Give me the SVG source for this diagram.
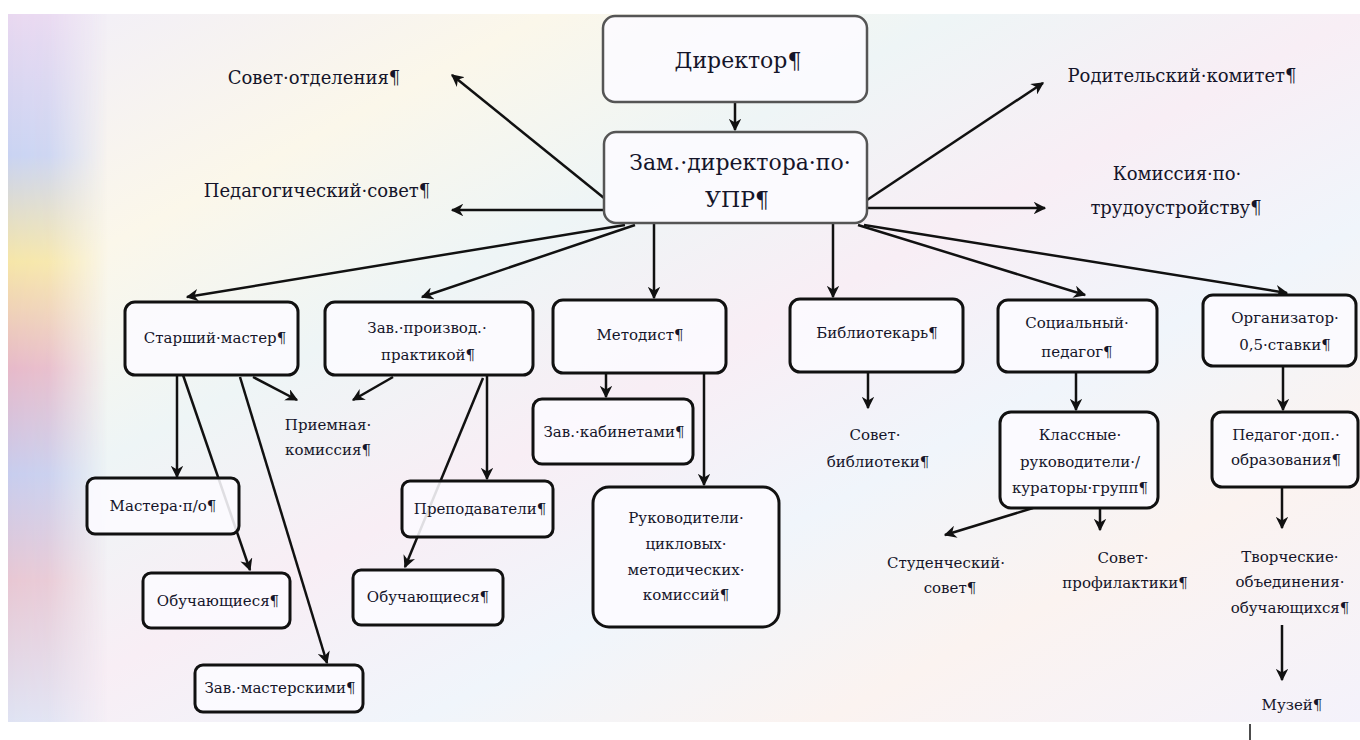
<svg xmlns="http://www.w3.org/2000/svg" width="1360" height="740" viewBox="0 0 1360 740">
<defs>
<linearGradient id="bg" x1="0" y1="0" x2="1" y2="1">
<stop offset="0" stop-color="#f1eef9"/>
<stop offset="0.2" stop-color="#fbf7ea"/>
<stop offset="0.35" stop-color="#eef5f6"/>
<stop offset="0.5" stop-color="#f8eef5"/>
<stop offset="0.65" stop-color="#f0f5fb"/>
<stop offset="0.8" stop-color="#fbf3f0"/>
<stop offset="1" stop-color="#f4f2fb"/>
</linearGradient>
<linearGradient id="band" x1="0" y1="0" x2="0" y2="1">
<stop offset="0" stop-color="#e9d8f0"/>
<stop offset="0.2" stop-color="#c9d3f2"/>
<stop offset="0.35" stop-color="#f6e6a8"/>
<stop offset="0.5" stop-color="#e7b9c9"/>
<stop offset="0.65" stop-color="#c7cdee"/>
<stop offset="0.8" stop-color="#e8c7d3"/>
<stop offset="1" stop-color="#dfe3f3"/>
</linearGradient>
<linearGradient id="fadeg" x1="0" y1="0" x2="1" y2="0">
<stop offset="0" stop-color="#fff" stop-opacity="1"/>
<stop offset="0.4" stop-color="#fff" stop-opacity="0.9"/>
<stop offset="1" stop-color="#fff" stop-opacity="0"/>
</linearGradient>
<mask id="bandmask" maskUnits="userSpaceOnUse" x="0" y="0" width="1360" height="740">
<rect x="8" y="14" width="100" height="708" fill="url(#fadeg)"/>
</mask>
<marker id="ah" viewBox="0 0 10 10" refX="9" refY="5" markerWidth="5" markerHeight="5" orient="auto" markerUnits="strokeWidth">
<path d="M0,0 L10,5 L0,10 L3,5 z" fill="#111"/>
</marker>
</defs>
<style>
.box{fill:#fcfbff;fill-opacity:0.88;stroke:#111;stroke-width:3}
.top{stroke:#555;stroke-width:2.5}
text{font-family:"DejaVu Serif","Liberation Serif",serif}
.t{fill:#15152a;text-anchor:middle}
.s18{font-size:15px}
.s20{font-size:18px}
.s25{font-size:22px}
.c{stroke:#111;stroke-width:2.5;fill:none;marker-end:url(#ah)}
.p{stroke:#111;fill:none}
</style>
<rect width="1360" height="740" fill="#ffffff"/>
<rect x="8" y="14" width="1352" height="708" fill="url(#bg)"/>
<rect x="8" y="14" width="100" height="708" fill="url(#band)" mask="url(#bandmask)"/>

<g id="connectors">
<line class="c" x1="735" y1="102" x2="735" y2="130"/>
<line class="c" x1="604" y1="198" x2="452" y2="75"/>
<line class="c" x1="604" y1="210" x2="452" y2="210"/>
<line class="c" x1="867" y1="200" x2="1043" y2="83"/>
<line class="c" x1="867" y1="208" x2="1045" y2="208"/>
<line class="c" x1="625" y1="225" x2="187" y2="297"/>
<line class="c" x1="635" y1="225" x2="422" y2="297"/>
<line class="c" x1="654" y1="223" x2="654" y2="298"/>
<line class="c" x1="833" y1="223" x2="833" y2="297"/>
<line class="c" x1="858" y1="225" x2="1085" y2="295"/>
<line class="c" x1="864" y1="225" x2="1287" y2="293"/>
<line class="c" x1="177" y1="375" x2="177" y2="477"/>
<line class="c" x1="183" y1="375" x2="250" y2="570"/>
<line class="c" x1="240" y1="377" x2="327" y2="663"/>
<line class="c" x1="253" y1="377" x2="297" y2="400"/>
<line class="c" x1="393" y1="377" x2="353" y2="400"/>
<line class="c" x1="487" y1="375" x2="487" y2="479"/>
<line class="c" x1="483" y1="378" x2="405" y2="567"/>
<line class="c" x1="606" y1="373" x2="606" y2="397"/>
<line class="c" x1="704" y1="373" x2="704" y2="485"/>
<line class="c" x1="868" y1="372" x2="868" y2="408"/>
<line class="c" x1="1076" y1="372" x2="1076" y2="410"/>
<line class="c" x1="1033" y1="508" x2="945" y2="535"/>
<line class="c" x1="1100" y1="508" x2="1100" y2="530"/>
<line class="c" x1="1283" y1="366" x2="1283" y2="410"/>
<line class="c" x1="1282" y1="487" x2="1282" y2="528"/>
<line class="c" x1="1282" y1="625" x2="1282" y2="680"/>
<line class="p" x1="1250" y1="724" x2="1250" y2="740" stroke-width="1.5"/>
</g>

<g id="director">
<rect class="box top" x="603" y="16" width="264" height="86" rx="12"/>
<text class="t s25" x="738" y="68">Директор¶</text>
</g>
<g id="zam">
<rect class="box top" x="604" y="132" width="263" height="91" rx="12"/>
<text class="t s25" x="740" y="170">Зам.·директора·по·</text>
<text class="t s25" x="737" y="207">УПР¶</text>
</g>
<g id="sovet-otdeleniya">
<text class="t s20" x="314" y="84">Совет·отделения¶</text>
</g>
<g id="ped-sovet">
<text class="t s20" x="317" y="197">Педагогический·совет¶</text>
</g>
<g id="rod-komitet">
<text class="t s20" x="1182" y="82">Родительский·комитет¶</text>
</g>
<g id="komissiya">
<text class="t s20" x="1177" y="180">Комиссия·по·</text>
<text class="t s20" x="1176" y="214">трудоустройству¶</text>
</g>

<g id="starshiy-master">
<rect class="box" x="125" y="302" width="173" height="73" rx="10"/>
<text class="t s18" x="215" y="343">Старший·мастер¶</text>
</g>
<g id="zav-proizvod">
<rect class="box" x="325" y="302" width="208" height="73" rx="10"/>
<text class="t s18" x="427" y="333">Зав.·производ.·</text>
<text class="t s18" x="428" y="360">практикой¶</text>
</g>
<g id="metodist">
<rect class="box" x="553" y="300" width="173" height="73" rx="10"/>
<text class="t s18" x="640" y="340">Методист¶</text>
</g>
<g id="bibliotekar">
<rect class="box" x="790" y="299" width="173" height="73" rx="10"/>
<text class="t s18" x="877" y="338">Библиотекарь¶</text>
</g>
<g id="soc-pedagog">
<rect class="box" x="998" y="300" width="159" height="72" rx="10"/>
<text class="t s18" x="1077" y="328">Социальный·</text>
<text class="t s18" x="1077" y="357">педагог¶</text>
</g>
<g id="organizator">
<rect class="box" x="1203" y="295" width="153" height="71" rx="10"/>
<text class="t s18" x="1285" y="323">Организатор·</text>
<text class="t s18" x="1285" y="350">0,5·ставки¶</text>
</g>

<g id="priemnaya">
<text class="t s18" x="328" y="430">Приемная·</text>
<text class="t s18" x="328" y="455">комиссия¶</text>
</g>
<g id="zav-kabinetami">
<rect class="box" x="533" y="399" width="160" height="65" rx="9"/>
<text class="t s18" x="614" y="437">Зав.·кабинетами¶</text>
</g>
<g id="sovet-biblioteki">
<text class="t s18" x="875" y="440">Совет·</text>
<text class="t s18" x="878" y="467">библиотеки¶</text>
</g>
<g id="klassnye">
<rect class="box" x="1000" y="412" width="158" height="96" rx="11"/>
<text class="t s18" x="1080" y="440">Классные·</text>
<text class="t s18" x="1080" y="467">руководители·/</text>
<text class="t s18" x="1080" y="493">кураторы·групп¶</text>
</g>
<g id="pedagog-dop">
<rect class="box" x="1212" y="412" width="146" height="75" rx="10"/>
<text class="t s18" x="1286" y="440">Педагог·доп.·</text>
<text class="t s18" x="1286" y="465">образования¶</text>
</g>

<g id="mastera">
<rect class="box" x="87" y="478" width="152" height="56" rx="8"/>
<text class="t s18" x="163" y="511">Мастера·п/о¶</text>
</g>
<g id="prepodavateli">
<rect class="box" x="402" y="481" width="151" height="56" rx="8"/>
<text class="t s18" x="480" y="514">Преподаватели¶</text>
</g>
<g id="rukovoditeli">
<rect class="box" x="593" y="487" width="186" height="140" rx="16"/>
<text class="t s18" x="686" y="523">Руководители·</text>
<text class="t s18" x="686" y="549">цикловых·</text>
<text class="t s18" x="686" y="575">методических·</text>
<text class="t s18" x="686" y="600">комиссий¶</text>
</g>
<g id="obuch-1">
<rect class="box" x="143" y="573" width="147" height="55" rx="8"/>
<text class="t s18" x="218" y="606">Обучающиеся¶</text>
</g>
<g id="obuch-2">
<rect class="box" x="353" y="570" width="150" height="55" rx="8"/>
<text class="t s18" x="428" y="602">Обучающиеся¶</text>
</g>
<g id="zav-masterskimi">
<rect class="box" x="195" y="665" width="168" height="47" rx="8"/>
<text class="t s18" x="280" y="693">Зав.·мастерскими¶</text>
</g>
<g id="stud-sovet">
<text class="t s18" x="946" y="568">Студенческий·</text>
<text class="t s18" x="950" y="593">совет¶</text>
</g>
<g id="sovet-profilaktiki">
<text class="t s18" x="1123" y="563">Совет·</text>
<text class="t s18" x="1125" y="588">профилактики¶</text>
</g>
<g id="tvorcheskie">
<text class="t s18" x="1290" y="562">Творческие·</text>
<text class="t s18" x="1290" y="587">объединения·</text>
<text class="t s18" x="1290" y="613">обучающихся¶</text>
</g>
<g id="muzey">
<text class="t s18" x="1292" y="710">Музей¶</text>
</g>
</svg>
